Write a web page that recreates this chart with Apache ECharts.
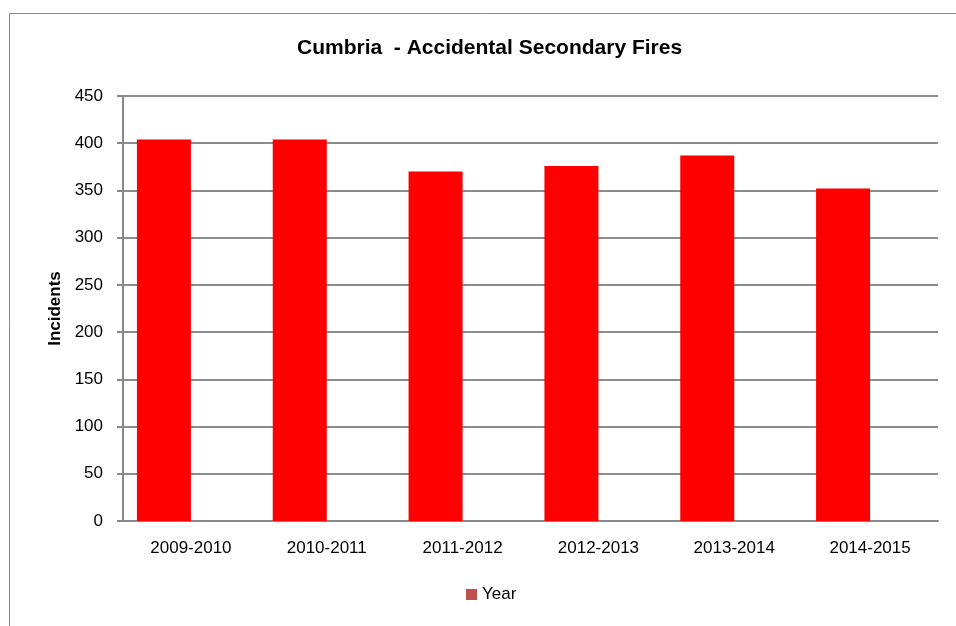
<!DOCTYPE html>
<html>
<head>
<meta charset="utf-8">
<script src="https://cdn.jsdelivr.net/npm/echarts@6/dist/echarts.min.js"></script>
<style>
	html,body{margin:0;padding:0;background:#fff;}
	#chart{width:956px;height:626px;}
</style>
</head>
<body>
<div id="chart"></div>
<script>
	//数据
	var years = ['2009-2010', '2010-2011', '2011-2012', '2012-2013', '2013-2014', '2014-2015'];
	var incidents = [404, 404, 370, 376, 387, 352];
	var emptySlot = [null, null, null, null, null, null]; //excel里的空系列，占位
	var yTicks = {min: 0, max: 450, step: 50};

	var font = 'Liberation Sans, Arial, sans-serif';
	var chart = echarts.init(document.getElementById('chart'));

	var option = {
		animation: false,
		backgroundColor: '#fff',
		graphic: [{  //外框
			type: 'rect',
			shape: {x: 9.5, y: 13.5, width: 980, height: 640},
			style: {fill: 'none', stroke: '#888', lineWidth: 1},
			silent: true
		}, {  //标题，比图区中心偏左
			type: 'text',
			left: 297,
			top: 38,
			style: {
				text: 'Cumbria  - Accidental Secondary Fires',
				font: 'bold 21px Liberation Sans, Arial, sans-serif',
				fill: '#000'
			},
			silent: true
		}],
		legend: {
			bottom: 18,
			left: 461,
			itemWidth: 11,
			itemHeight: 11,
			itemGap: 6,
			icon: 'rect',
			textStyle: {fontFamily: font, fontSize: 17, color: '#000'},
			data: [{name: 'Year', itemStyle: {color: '#c0504d'}}]
		},
		grid: {
			left: 123,
			right: 18,
			top: 96,
			bottom: 105,
			containLabel: false
		},
		xAxis: {
			type: 'category',
			data: years,
			axisLine: {lineStyle: {color: '#888', width: 2}},
			axisTick: {show: false},
			axisLabel: {fontFamily: font, fontSize: 17, color: '#000', margin: 19}
		},
		yAxis: {
			type: 'value',
			min: yTicks.min,
			max: yTicks.max,
			interval: yTicks.step,
			name: 'Incidents',
			nameLocation: 'middle',
			nameGap: 57,
			nameTextStyle: {fontFamily: font, fontSize: 17, fontWeight: 'bold', color: '#000'},
			axisLine: {show: true, lineStyle: {color: '#888', width: 2}},
			axisTick: {show: true, length: 6, lineStyle: {color: '#888', width: 2}},
			axisLabel: {fontFamily: font, fontSize: 17, color: '#000', margin: 20},
			splitLine: {lineStyle: {color: '#8c8c8c', width: 2}}
		},
		series: [{
			name: 'Year',
			type: 'bar',
			data: incidents,
			barWidth: 54,
			barGap: '0%',
			itemStyle: {color: '#ff0000'}
		}, {
			name: '',
			type: 'bar',
			data: emptySlot,
			barWidth: 54,
			barGap: '0%'
		}]
	};
	chart.setOption(option);
</script>
</body>
</html>
